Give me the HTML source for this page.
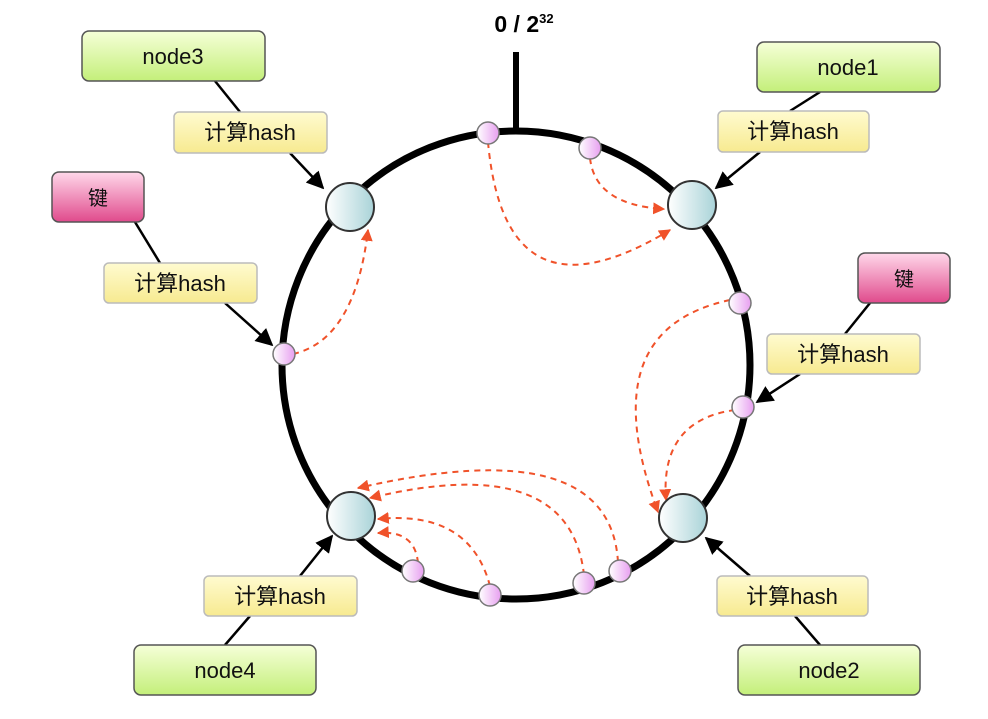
<!DOCTYPE html>
<html><head><meta charset="utf-8"><style>
html,body{margin:0;padding:0;background:#fff;}
svg text{font-family:"Liberation Sans","Noto Sans CJK SC",sans-serif;}
</style></head><body>
<svg width="988" height="714" viewBox="0 0 988 714" xmlns="http://www.w3.org/2000/svg">
<defs>
<linearGradient id="gG" x1="0" y1="0" x2="0" y2="1"><stop offset="0" stop-color="#f6ffd8"/><stop offset="1" stop-color="#c4ef7a"/></linearGradient>
<linearGradient id="gY" x1="0" y1="0" x2="0" y2="1"><stop offset="0" stop-color="#fffbd0"/><stop offset="1" stop-color="#f7ea90"/></linearGradient>
<linearGradient id="gP" x1="0" y1="0" x2="0" y2="1"><stop offset="0" stop-color="#ffd8ea"/><stop offset="1" stop-color="#e04a8c"/></linearGradient>
<linearGradient id="gN" x1="0" y1="0" x2="1" y2="0"><stop offset="0" stop-color="#ffffff"/><stop offset="1" stop-color="#a9d3d8"/></linearGradient>
<linearGradient id="gD" x1="0" y1="0" x2="1" y2="0"><stop offset="0" stop-color="#fff"/><stop offset="1" stop-color="#e79ff0"/></linearGradient>
<marker id="ar" viewBox="0 0 10 10" refX="9" refY="5" markerWidth="7" markerHeight="7" orient="auto"><path d="M0,0L10,5L0,10z" fill="#000"/></marker>
<marker id="ro" viewBox="0 0 10 10" refX="9" refY="5" markerWidth="6" markerHeight="6" orient="auto"><path d="M0,0L10,5L0,10z" fill="#f0522a"/></marker>
</defs>
<line x1="516" y1="52" x2="516" y2="132" stroke="#000" stroke-width="6"/>
<text x="524" y="32" font-size="23" font-weight="bold" text-anchor="middle">0 / 2<tspan font-size="13" dy="-9">32</tspan></text>
<circle cx="516" cy="365" r="234" fill="none" stroke="#000" stroke-width="7"/>
<g stroke="#000" stroke-width="2.5" fill="none">
<line x1="215" y1="81" x2="240" y2="112"/><line x1="290" y1="153" x2="323" y2="188" marker-end="url(#ar)"/>
<line x1="820" y1="92" x2="790" y2="111"/><line x1="760" y1="152" x2="716" y2="188" marker-end="url(#ar)"/>
<line x1="135" y1="222" x2="160" y2="263"/><line x1="225" y1="303" x2="272" y2="345" marker-end="url(#ar)"/>
<line x1="870" y1="303" x2="845" y2="334"/><line x1="800" y1="374" x2="757" y2="402" marker-end="url(#ar)"/>
<line x1="225" y1="645" x2="250" y2="616"/><line x1="300" y1="576" x2="332" y2="536" marker-end="url(#ar)"/>
<line x1="820" y1="645" x2="795" y2="616"/><line x1="750" y1="576" x2="706" y2="538" marker-end="url(#ar)"/>
</g>
<g stroke="#f0522a" stroke-width="2" stroke-dasharray="6,5" fill="none" marker-end="url(#ro)">
<path d="M488,142 Q505,330 670,230"/>
<path d="M590,158 Q595,205 664,209"/>
<path d="M293,354 Q355,340 368,230"/>
<path d="M730,300 Q590,330 658,512"/>
<path d="M735,410 Q660,420 666,500"/>
<path d="M618,562 Q610,430 358,488"/>
<path d="M584,575 Q570,450 370,498"/>
<path d="M490,586 Q470,510 378,519"/>
<path d="M418,563 Q415,530 378,533"/>
</g>
<g stroke="#333" stroke-width="2" fill="url(#gN)">
<circle cx="350" cy="207" r="24"/><circle cx="692" cy="205" r="24"/><circle cx="683" cy="518" r="24"/><circle cx="351" cy="516" r="24"/>
</g>
<g stroke="#777" stroke-width="1.5" fill="url(#gD)">
<circle cx="488" cy="133" r="11"/><circle cx="590" cy="148" r="11"/><circle cx="740" cy="303" r="11"/><circle cx="743" cy="407" r="11"/><circle cx="284" cy="354" r="11"/><circle cx="413" cy="571" r="11"/><circle cx="490" cy="595" r="11"/><circle cx="584" cy="583" r="11"/><circle cx="620" cy="571" r="11"/>
</g>
<g stroke="#555" stroke-width="1.5" font-size="22">
<g><rect x="82" y="31" width="183" height="50" rx="7" fill="url(#gG)"/><text x="173" y="64" text-anchor="middle" stroke="none" fill="#111">node3</text></g>
<g><rect x="757" y="42" width="183" height="50" rx="7" fill="url(#gG)"/><text x="848" y="75" text-anchor="middle" stroke="none" fill="#111">node1</text></g>
<g><rect x="738" y="645" width="182" height="50" rx="7" fill="url(#gG)"/><text x="829" y="678" text-anchor="middle" stroke="none" fill="#111">node2</text></g>
<g><rect x="134" y="645" width="182" height="50" rx="7" fill="url(#gG)"/><text x="225" y="678" text-anchor="middle" stroke="none" fill="#111">node4</text></g>
<g fill="url(#gY)" stroke="#bbb">
<g><rect x="174" y="112" width="153" height="41" rx="5"/><text x="250" y="140" text-anchor="middle" stroke="none" fill="#111">计算hash</text></g>
<g><rect x="718" y="111" width="151" height="41" rx="5"/><text x="793" y="139" text-anchor="middle" stroke="none" fill="#111">计算hash</text></g>
<g><rect x="767" y="334" width="153" height="40" rx="5"/><text x="843" y="362" text-anchor="middle" stroke="none" fill="#111">计算hash</text></g>
<g><rect x="204" y="576" width="153" height="40" rx="5"/><text x="280" y="604" text-anchor="middle" stroke="none" fill="#111">计算hash</text></g>
<g><rect x="717" y="576" width="151" height="40" rx="5"/><text x="792" y="604" text-anchor="middle" stroke="none" fill="#111">计算hash</text></g>
<g><rect x="104" y="263" width="153" height="40" rx="5"/><text x="180" y="291" text-anchor="middle" stroke="none" fill="#111">计算hash</text></g>
</g>
<g fill="url(#gP)" stroke="#555">
<g><rect x="52" y="172" width="92" height="50" rx="7"/><text x="98" y="205" text-anchor="middle" stroke="none" fill="#111" font-size="20">键</text></g>
<g><rect x="858" y="253" width="92" height="50" rx="7"/><text x="904" y="286" text-anchor="middle" stroke="none" fill="#111" font-size="20">键</text></g>
</g>
</g>
</svg>
</body></html>
